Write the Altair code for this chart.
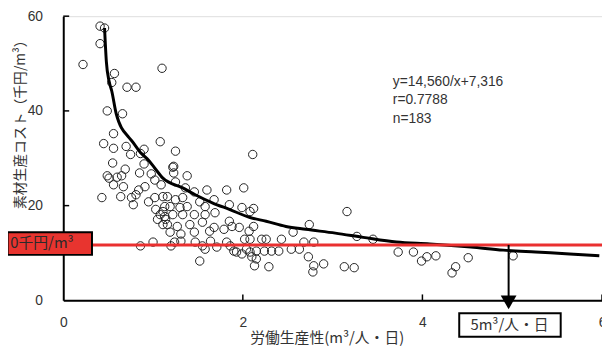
import altair as alt
import pandas as pd

# --- scatter data (labour productivity m3/person-day, cost thousand yen/m3) ---
prod_x = [0.41, 0.46, 0.41, 0.22, 1.10, 0.57, 0.54, 0.71, 0.81, 0.49,
          0.66, 0.56, 1.08, 0.45, 0.56, 0.70, 0.90, 1.25, 0.75, 0.86,
          0.55, 0.90, 1.23, 0.69, 0.85, 1.23, 1.38, 0.49, 0.65, 0.98,
          0.51, 0.60, 0.56, 0.67, 0.91, 1.09, 1.02, 0.43, 0.64, 0.76,
          0.81, 0.84, 0.95, 1.02, 1.11, 1.13, 0.78, 1.03, 1.08, 1.11,
          1.05, 1.11, 1.14, 0.86, 1.00, 1.22, 1.25, 1.36, 1.46, 1.60,
          1.82, 2.01, 1.16, 1.25, 1.33, 1.19, 1.30, 1.38, 1.52, 1.58,
          1.68, 1.85, 1.99, 2.08, 1.13, 1.22, 1.33, 1.46, 1.58, 1.69,
          1.16, 1.27, 1.41, 1.55, 1.68, 1.85, 1.96, 1.19, 1.31, 1.46,
          1.63, 1.79, 1.88, 2.07, 1.24, 1.47, 1.64, 1.82, 2.02, 1.90,
          1.58, 2.04, 2.12, 2.12, 2.74, 2.56, 2.08, 2.21, 2.26, 2.43,
          2.68, 2.79, 2.08, 2.15, 2.24, 2.32, 2.40, 2.54, 2.63, 2.10,
          2.15, 2.13, 2.29, 2.73, 2.79, 2.90, 2.78, 3.16, 3.27, 3.45,
          3.73, 3.13, 3.24, 3.90, 3.99, 4.05, 4.15, 4.51, 4.37, 4.33,
          5.01, 1.20, 1.52, 1.31, 1.55, 1.71, 1.86, 1.93, 1.99, 2.11]
cost_y = [57.9, 57.5, 54.2, 49.8, 49.0, 47.9, 46.0, 45.0, 45.0, 40.0,
          39.4, 35.2, 33.5, 33.1, 32.1, 32.5, 31.9, 31.5, 30.8, 31.0,
          29.0, 28.8, 28.3, 27.7, 26.9, 26.9, 26.3, 26.3, 26.3, 26.7,
          25.8, 26.0, 24.4, 24.0, 24.0, 24.4, 25.4, 21.7, 21.9, 21.7,
          22.3, 23.3, 20.8, 21.7, 21.9, 19.8, 20.2, 19.2, 18.1, 18.75,
          17.1, 16.0, 17.1, 11.5, 12.3, 28.1, 25.0, 23.75, 22.9, 23.3,
          23.3, 23.75, 21.9, 21.25, 21.7, 19.8, 19.6, 19.8, 20.8, 19.8,
          21.25, 20.2, 19.6, 18.75, 17.7, 18.1, 18.1, 18.1, 18.1, 18.5,
          16.0, 15.6, 16.0, 16.5, 15.4, 16.7, 15.4, 14.4, 14.0, 14.4,
          14.6, 15.0, 15.6, 14.6, 12.3, 12.3, 12.5, 12.3, 12.9, 10.4,
          10.8, 10.8, 19.4, 15.6, 16.0, 14.4, 12.9, 12.9, 12.9, 12.9,
          12.3, 12.3, 10.2, 10.4, 10.4, 10.4, 10.4, 10.8, 10.8, 9.2,
          8.75, 7.3, 7.1, 9.2, 7.3, 7.7, 6.0, 18.75, 13.5, 12.9,
          10.2, 7.1, 6.9, 10.2, 8.3, 9.2, 9.4, 9.0, 7.1, 5.8,
          9.4, 11.5, 8.3, 12.5, 11.5, 11.25, 11.5, 10.2, 9.8, 30.8]

# --- fitted curve ---
curve_x = [0.46, 0.48, 0.51, 0.54, 0.59, 0.73, 0.76, 0.87, 0.95, 1.02, 1.11,
           1.33, 1.47, 1.66, 1.85, 2.08, 2.26, 2.48, 2.70, 3.03, 3.34, 3.71,
           4.08, 4.54, 4.90, 5.26, 5.64, 5.97]
curve_y = [57.5, 50.4, 46.3, 44.2, 39.4, 34.4, 33.75, 31.0, 29.6, 27.9, 25.8,
           23.75, 22.3, 20.6, 19.2, 17.5, 16.7, 15.6, 15.0, 14.2, 13.3, 12.3,
           11.9, 11.25, 10.6, 10.2, 9.8, 9.4]

x_ticks = [0, 2, 4, 6]
y_ticks = [0, 20, 40, 60]
red_level = 11.7
target_x = 4.96
eq_lines = ["y=14,560/x+7,316", "r=0.7788", "n=183"]
eq_y = [46.0, 42.2, 38.3]
eq_x = 3.67
red_label = "0千円/m³"
target_label = "5m³/人・日"
x_title = "労働生産性(m³/人・日)"
y_title = "素材生産コスト（千円/m³）"

W, H = 546, 288
JP = "Noto Sans CJK JP"
LAT = "Liberation Sans"

xs = alt.Scale(domain=[0, 6], nice=False, zero=False)
ys = alt.Scale(domain=[0, 60], nice=False)

pts_df = pd.DataFrame({"x": prod_x, "y": cost_y})
curve_df = pd.DataFrame({"x": curve_x, "y": curve_y})
eq_df = pd.DataFrame({"x": [eq_x] * len(eq_lines), "y": eq_y, "t": eq_lines})
xt_df = pd.DataFrame({"v": x_ticks[1:]})
yt_df = pd.DataFrame({"v": y_ticks[1:]})
one_df = pd.DataFrame({"k": [0]})

pts = alt.Chart(pts_df).mark_point(
    shape="circle", filled=False, color="#222", strokeWidth=1, size=72, opacity=1
).encode(
    x=alt.X("x:Q", scale=xs, axis=alt.Axis(
        values=x_ticks, format="d", labelFlush=False, title=x_title, grid=False, ticks=False,
        domainColor="black", domainWidth=2, labelColor="#333", labelFont=LAT,
        labelFontSize=14, labelPadding=16, titleFont=JP, titleFontSize=15,
        titleFontWeight="normal", titleColor="#333", titleX=267, titleY=38,
        titleBaseline="middle", titleAlign="center")),
    y=alt.Y("y:Q", scale=ys, axis=alt.Axis(
        values=y_ticks, format="d", labelFlush=False, title=y_title, grid=False, ticks=False,
        domainColor="black", domainWidth=2, labelColor="#333", labelFont=LAT,
        labelFontSize=14, labelPadding=21, titleFont=JP, titleFontSize=14,
        titleFontWeight="normal", titleColor="#333", titleX=-43, titleY=106,
        titleAngle=-90, titleBaseline="middle", titleAlign="center")),
)

curve = alt.Chart(curve_df).mark_line(
    color="black", strokeWidth=3, interpolate="monotone"
).encode(x=alt.X("x:Q", scale=xs), y=alt.Y("y:Q", scale=ys))

red_rule = alt.Chart(one_df).mark_rule(color="#ea3030", strokeWidth=3).encode(
    x=alt.datum(0), x2=alt.datum(6), y=alt.datum(red_level))

red_box = alt.Chart(one_df).mark_rect(fill="#e8342f", stroke="black", strokeWidth=2).encode(
    x=alt.datum(-0.62), x2=alt.datum(0.32), y=alt.datum(14.4), y2=alt.datum(9.6))

red_text = alt.Chart(one_df).mark_text(
    text=red_label, font=JP, fontSize=15, fontWeight="normal", color="#2a2a2a",
    align="left", baseline="middle"
).encode(x=alt.datum(-0.59), y=alt.datum(12.0))

arrow = alt.Chart(one_df).mark_rule(color="black", strokeWidth=2).encode(
    x=alt.datum(target_x), y=alt.datum(red_level), y2=alt.datum(-0.5))

head = alt.Chart(one_df).mark_point(
    shape="triangle-down", filled=True, color="black", size=256, opacity=1
).encode(x=alt.datum(target_x), y=alt.datum(-0.42))

lab_box = alt.Chart(one_df).mark_rect(fill="white", stroke="black", strokeWidth=2).encode(
    x=alt.datum(4.41), x2=alt.datum(5.54), y=alt.datum(-2.7), y2=alt.datum(-7.7))

lab_text = alt.Chart(one_df).mark_text(
    text=target_label, font=JP, fontSize=15, fontWeight="normal", color="#333",
    align="center", baseline="middle"
).encode(x=alt.datum(4.97), y=alt.datum(-5.2))

eq = alt.Chart(eq_df).mark_text(
    font=LAT, fontSize=14, color="#333", align="left", baseline="middle"
).encode(x=alt.X("x:Q", scale=xs), y=alt.Y("y:Q", scale=ys), text="t:N")

ytick = alt.Chart(yt_df).mark_rule(color="black", strokeWidth=1.5).encode(
    y=alt.Y("v:Q", scale=ys), x=alt.value(0), x2=alt.value(6))

xtick = alt.Chart(xt_df).mark_rule(color="black", strokeWidth=1.5).encode(
    x=alt.X("v:Q", scale=xs), y=alt.value(H), y2=alt.value(H - 6))

chart = alt.layer(
    pts, curve, red_rule, red_box, red_text, arrow, head, lab_box, lab_text, eq, ytick, xtick
).properties(
    width=W, height=H,
    autosize=alt.AutoSizeParams(type="none"),
    padding={"left": 56, "top": 6, "right": 0, "bottom": 46},
).configure_view(stroke=None).configure(background="white")

chart.save("out.html", embed_options={"renderer": "svg", "actions": False})
